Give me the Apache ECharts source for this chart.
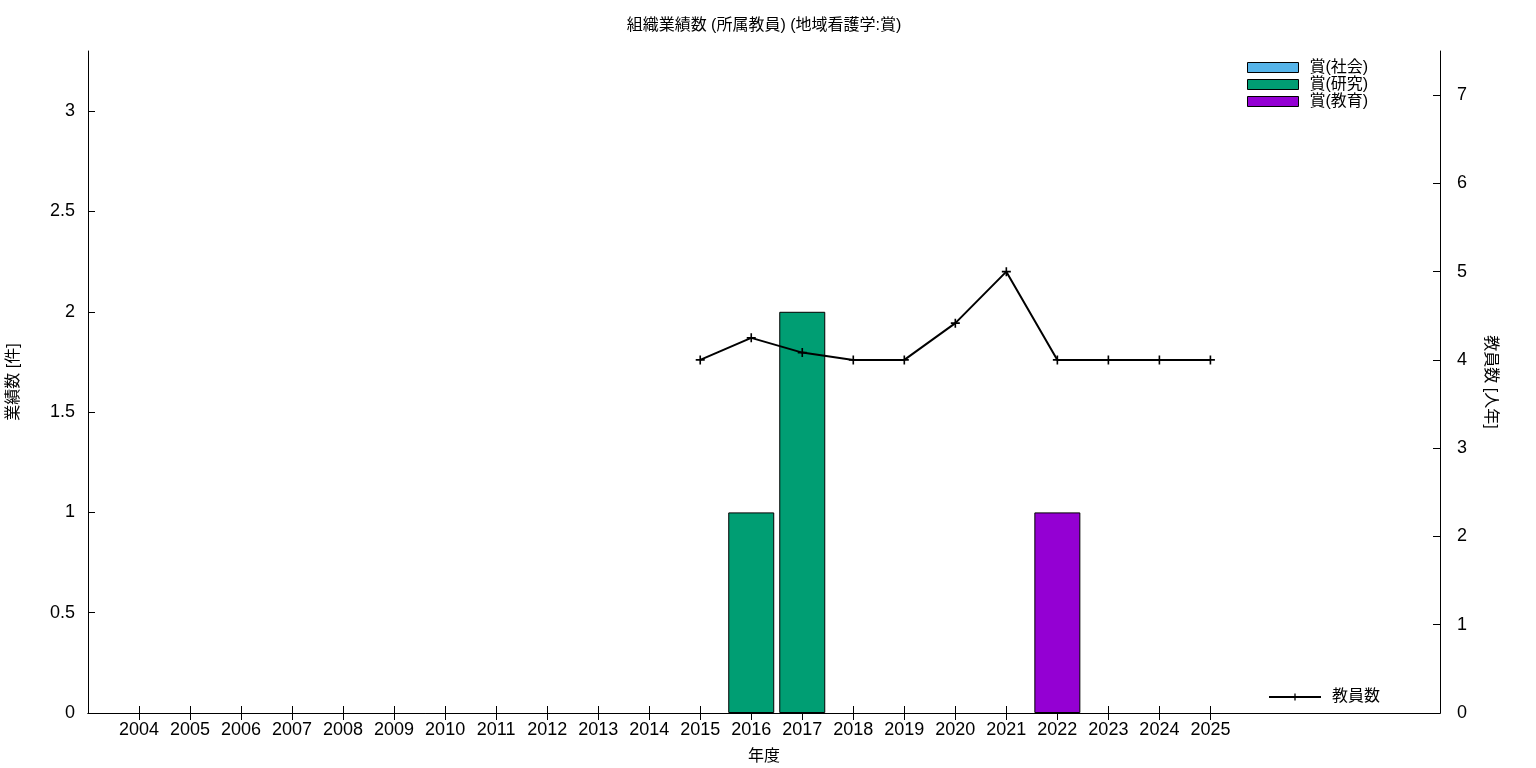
<!DOCTYPE html>
<html><head><meta charset="utf-8">
<script src="https://cdn.jsdelivr.net/npm/echarts@6/dist/echarts.min.js"></script>
<style>html,body{margin:0;padding:0;background:#fff}#c{width:1536px;height:768px}</style>
</head><body><div id="c"></div>
<script>
const years = [2004,2005,2006,2007,2008,2009,2010,2011,2012,2013,2014,2015,2016,2017,2018,2019,2020,2021,2022,2023,2024,2025];
const awardSocial   = [0,0,0,0,0,0,0,0,0,0,0,0,0,0,0,0,0,0,0,0,0,0];
const awardResearch = [0,0,0,0,0,0,0,0,0,0,0,0,1,2,0,0,0,0,0,0,0,0];
const awardEducation= [0,0,0,0,0,0,0,0,0,0,0,0,0,0,0,0,0,0,1,0,0,0];
const staff = [null,null,null,null,null,null,null,null,null,null,null,4,4.25,4.083,4,4,4.417,5,4,4,4,4];
const leftTicks = [0,0.5,1,1.5,2,2.5,3];
const rightTicks = [0,1,2,3,4,5,6,7];

const pairs = arr => years.map((y,i) => [y, arr[i] ? arr[i] : null]);
const pairsLine = arr => years.map((y,i) => [y, arr[i]]);
const FONT = '"Liberation Sans","Noto Sans CJK JP",sans-serif';
const crossPath = 'path://M0,4.1H10V5.9H0Z M4.1,0H5.9V10H4.1Z';

const chart = echarts.init(document.getElementById('c'), null, {renderer:'canvas'});
const axisLineStyle = {color:'#000', width:1};
chart.setOption({
  animation:false,
  textStyle:{fontFamily:FONT, color:'#000'},
  title:{text:'組織業績数 (所属教員) (地域看護学:賞)', left:764, top:18, padding:0, textAlign:'center',
    textStyle:{fontSize:16, fontWeight:'normal', color:'#000', fontFamily:FONT}},
  grid:{left:88, right:96, top:51, bottom:55, containLabel:false, outerBoundsMode:'none'},
  legend:[
    {data:['賞(社会)','賞(研究)','賞(教育)'], orient:'vertical', left:1247, top:59, padding:0, icon:'rect',
     itemWidth:51, itemHeight:10, itemGap:0,
     itemStyle:{borderColor:'#000', borderWidth:1},
     textStyle:{fontSize:16, lineHeight:17, color:'#000', padding:[0,0,0,6]}},
    {data:['教員数'], left:1268, top:689, padding:0, itemWidth:52, itemHeight:9,
     textStyle:{fontSize:16, color:'#000', padding:[0,0,0,6]}}
  ],
  xAxis:[
    {type:'value', min:2003, max:2029.5, interval:1, position:'bottom',
     name:'年度', nameLocation:'middle', nameGap:36, nameTextStyle:{fontSize:16, color:'#000'},
     axisLine:{lineStyle:axisLineStyle}, splitLine:{show:false},
     axisTick:{inside:true, length:7, customValues:years, lineStyle:axisLineStyle},
     axisLabel:{customValues:years, fontSize:18, margin:8, color:'#000', formatter:v=>String(v)}},
    {type:'value', min:2003, max:2029.5, interval:1, position:'top',
     axisLine:{lineStyle:axisLineStyle}, splitLine:{show:false},
     axisTick:{inside:true, length:7, customValues:years, lineStyle:axisLineStyle},
     axisLabel:{show:false}}
  ],
  yAxis:[
    {type:'value', min:0, max:3.3, interval:0.5, position:'left',
     name:'業績数 [件]', nameLocation:'middle', nameGap:66, nameTextStyle:{fontSize:16, color:'#000'},
     axisLine:{show:true, lineStyle:axisLineStyle}, splitLine:{show:false},
     axisTick:{show:true, inside:true, length:7, customValues:leftTicks, lineStyle:axisLineStyle},
     axisLabel:{customValues:leftTicks, fontSize:18, margin:13, color:'#000'}},
    {type:'value', min:0, max:7.5, interval:1, position:'right',
     name:'教員数 [人年]', nameLocation:'middle', nameGap:42, nameRotate:-90, nameTextStyle:{fontSize:16, color:'#000'},
     axisLine:{show:true, lineStyle:axisLineStyle}, splitLine:{show:false},
     axisTick:{show:true, inside:true, length:7, customValues:rightTicks, lineStyle:axisLineStyle},
     axisLabel:{customValues:rightTicks, fontSize:18, margin:17, color:'#000'}}
  ],
  series:[
    {name:'賞(社会)', type:'bar', stack:'a', xAxisIndex:0, yAxisIndex:0, barWidth:46,
     itemStyle:{color:'#56b4e9', borderColor:'#000', borderWidth:1}, data:pairs(awardSocial)},
    {name:'賞(研究)', type:'bar', stack:'a', xAxisIndex:0, yAxisIndex:0, barWidth:46,
     itemStyle:{color:'#009e73', borderColor:'#000', borderWidth:1}, data:pairs(awardResearch)},
    {name:'賞(教育)', type:'bar', stack:'a', xAxisIndex:0, yAxisIndex:0, barWidth:46,
     itemStyle:{color:'#9400d3', borderColor:'#000', borderWidth:1}, data:pairs(awardEducation)},
    {name:'教員数', type:'line', xAxisIndex:0, yAxisIndex:1, symbol:crossPath, symbolSize:9,
     showAllSymbol:true, connectNulls:false,
     lineStyle:{color:'#000', width:2}, itemStyle:{color:'#000'}, data:pairsLine(staff)}
  ]
});
</script></body></html>
